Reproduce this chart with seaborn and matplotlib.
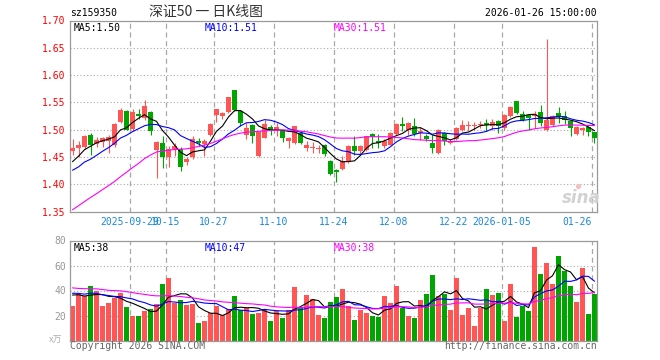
import numpy as np
import pandas as pd
import matplotlib
matplotlib.use("Agg")
import matplotlib.pyplot as plt
import seaborn as sns

# ---------------- data ----------------
dates = ["2025-09-29", "10-15", "10-27", "11-10", "11-24", "12-08", "12-22", "2026-01-05", "01-26"]
date_idx = [10, 16, 24, 34, 44, 54, 64, 72, 87]

opens = [1.461, 1.467, 1.469, 1.490, 1.474, 1.477, 1.479, 1.472, 1.514, 1.535,
         1.502, 1.529, 1.522, 1.533, 1.462, 1.4755, 1.449, 1.465, 1.4645, 1.440,
         1.449, 1.4785, 1.4736, 1.491, 1.527, 1.5255, 1.532, 1.572, 1.535, 1.490,
         1.509, 1.451, 1.485, 1.505, 1.500, 1.500, 1.4785, 1.4755, 1.494, 1.4668,
         1.466, 1.4645, 1.471, 1.4417, 1.4263, 1.4282, 1.4405, 1.4693, 1.4613, 1.4632,
         1.492, 1.4785, 1.4693, 1.4724, 1.492, 1.5104, 1.500, 1.506, 1.4939, 1.4877,
         1.4755, 1.457, 1.4939, 1.4755, 1.4834, 1.500, 1.507, 1.5074, 1.5086, 1.5123,
         1.5061, 1.5153, 1.503, 1.5245, 1.5522, 1.5288, 1.5264, 1.5245, 1.5325, 1.500,
         1.508, 1.5307, 1.5245, 1.5153, 1.4918, 1.500, 1.5043, 1.4951]
highs = [1.482, 1.479, 1.491, 1.494, 1.487, 1.487, 1.490, 1.512, 1.539, 1.536,
         1.537, 1.538, 1.555, 1.534, 1.480, 1.489, 1.470, 1.4755, 1.469, 1.450,
         1.489, 1.4847, 1.482, 1.512, 1.538, 1.5325, 1.560, 1.573, 1.536, 1.512,
         1.511, 1.497, 1.518, 1.509, 1.512, 1.501, 1.487, 1.507, 1.497, 1.4786,
         1.478, 1.4724, 1.474, 1.444, 1.428, 1.4509, 1.4724, 1.4877, 1.4724, 1.489,
         1.494, 1.492, 1.482, 1.495, 1.5123, 1.5233, 1.514, 1.5215, 1.5043, 1.492,
         1.4908, 1.502, 1.495, 1.482, 1.505, 1.5184, 1.5153, 1.514, 1.5165, 1.5196,
         1.5196, 1.518, 1.528, 1.543, 1.553, 1.5337, 1.528, 1.5337, 1.546, 1.667,
         1.5276, 1.541, 1.5337, 1.516, 1.506, 1.505, 1.506, 1.496]
lows = [1.454, 1.450, 1.465, 1.454, 1.468, 1.468, 1.457, 1.469, 1.512, 1.499,
        1.498, 1.520, 1.518, 1.491, 1.411, 1.4295, 1.432, 1.452, 1.4245, 1.436,
        1.447, 1.4705, 1.451, 1.489, 1.514, 1.519, 1.531, 1.534, 1.507, 1.482,
        1.4755, 1.450, 1.484, 1.491, 1.488, 1.478, 1.4663, 1.474, 1.473, 1.4602,
        1.4565, 1.458, 1.451, 1.416, 1.4048, 1.426, 1.4386, 1.454, 1.454, 1.461,
        1.466, 1.466, 1.467, 1.471, 1.490, 1.497, 1.4908, 1.4877, 1.4816, 1.480,
        1.457, 1.455, 1.4724, 1.473, 1.481, 1.497, 1.497, 1.500, 1.503, 1.497,
        1.500, 1.4939, 1.500, 1.523, 1.529, 1.5153, 1.500, 1.503, 1.506, 1.497,
        1.506, 1.5123, 1.510, 1.4877, 1.490, 1.4908, 1.4877, 1.4755]
closes = [1.466, 1.471, 1.489, 1.472, 1.481, 1.485, 1.486, 1.510, 1.536, 1.500,
          1.533, 1.525, 1.543, 1.497, 1.478, 1.449, 1.465, 1.470, 1.431, 1.4466,
          1.483, 1.4755, 1.4785, 1.511, 1.537, 1.531, 1.559, 1.536, 1.512, 1.503,
          1.488, 1.495, 1.511, 1.500, 1.504, 1.4847, 1.4847, 1.506, 1.4755, 1.471,
          1.469, 1.4663, 1.4552, 1.4184, 1.422, 1.443, 1.4693, 1.4613, 1.4693, 1.4877,
          1.4859, 1.4755, 1.4797, 1.4939, 1.5104, 1.5061, 1.5123, 1.492, 1.497, 1.4828,
          1.4663, 1.500, 1.4785, 1.4785, 1.503, 1.5092, 1.508, 1.508, 1.5092, 1.508,
          1.514, 1.5061, 1.5264, 1.5411, 1.5307, 1.5184, 1.5215, 1.5288, 1.5123, 1.5184,
          1.5245, 1.5233, 1.518, 1.503, 1.5043, 1.503, 1.4951, 1.4847]
volumes = [27.9, 37.0, 35.9, 43.6, 39.6, 27.6, 30.0, 34.3, 38.0, 26.8,
           19.9, 19.6, 23.9, 25.2, 28.9, 45.2, 50.0, 30.3, 32.4, 28.4,
           29.2, 14.3, 15.6, 21.7, 27.9, 20.4, 25.2, 35.6, 24.1, 25.7,
           21.2, 22.3, 25.2, 15.6, 23.3, 18.3, 24.4, 43.1, 26.5, 36.4,
           33.2, 20.4, 18.3, 30.8, 35.1, 41.2, 27.9, 16.4, 24.4, 22.3,
           19.9, 19.1, 35.6, 30.0, 43.6, 26.3, 19.9, 18.0, 32.4, 37.2,
           52.4, 35.6, 37.0, 24.4, 50.3, 20.4, 26.3, 11.9, 26.0, 41.2,
           36.4, 38.0, 15.6, 45.2, 19.1, 27.9, 23.6, 75.0, 53.2, 62.0,
           45.2, 67.6, 55.6, 43.6, 31.0, 58.0, 21.2, 37.0]
# closes / volumes of the 29 sessions before the first visible candle (needed by the moving averages)
prior_closes = [1.25, 1.26, 1.25, 1.27, 1.26, 1.27, 1.28, 1.27, 1.26, 1.28,
                1.29, 1.28, 1.30, 1.31, 1.40, 1.42, 1.43, 1.41, 1.43, 1.42,
                1.41, 1.40, 1.42, 1.41, 1.41, 1.42, 1.43, 1.44, 1.45]
prior_volumes = [50, 42, 47, 40, 45, 48, 41, 44, 46, 43,
                 45, 41, 48, 42, 44, 46, 40, 43, 47, 43,
                 38, 42, 36, 41, 39, 36, 41, 40, 37]
ma_periods = [5, 10, 30]
ma_colors = ["#000000", "#0000FF", "#FF00FF"]

# ---------------- style ----------------
sns.set_style("white")
plt.rcParams["font.family"] = ["DejaVu Sans Mono", "Noto Sans CJK SC"]
RED = "#FF5555"
GREEN = "#00A600"
GRID = "#A8A8A8"
SPINE = "#9A9A9A"
W, H = 660, 360

fig = plt.figure(figsize=(6.6, 3.6), dpi=100)
fig.patch.set_facecolor("white")

def fx(px):
    return px / W

def fy(py):
    return 1 - py / H

ax1 = fig.add_axes([fx(70), fy(211.5), 527 / W, 191 / H])
ax2 = fig.add_axes([fx(70), fy(340.5), 527 / W, 100 / H])

n = len(closes)
idx = np.arange(n)
xl = (-2.5 / 6, (597 - 72.5) / 6)
bw = 5 / 6

o = np.array(opens); c = np.array(closes); hi = np.array(highs); lo = np.array(lows)
up = c >= o
cols = [RED if u else GREEN for u in up]

all_close = pd.Series(prior_closes + closes)
all_vol = pd.Series(prior_volumes + volumes)
k = len(prior_closes)

for ax in (ax1, ax2):
    ax.set_xlim(*xl)
    for s in ax.spines.values():
        s.set_color(SPINE)
        s.set_linewidth(0.9)
    for d in date_idx:
        ax.axvline(d - 2.5 / 6, color=GRID, lw=0.9, dashes=(4, 3), zorder=0)

# ---- main panel ----
ax1.set_ylim(1.35, 1.70)
yt = [1.35, 1.40, 1.45, 1.50, 1.55, 1.60, 1.65, 1.70]
for v in yt[1:-1]:
    ax1.axhline(v, color=GRID, lw=0.8, dashes=(1, 2), zorder=0)
ax1.vlines(idx, lo, hi, colors=cols, lw=0.8, zorder=2)
body = np.maximum(np.abs(c - o), 0.0012)
ax1.bar(idx, body, bottom=np.minimum(o, c), width=bw, color=cols, linewidth=0, zorder=3)
for p, colr in zip(ma_periods, ma_colors):
    ma = all_close.rolling(p).mean().iloc[k:].to_numpy()
    sns.lineplot(x=idx, y=ma, color=colr, lw=0.8, ax=ax1, zorder=4, legend=False)
ax1.set_yticks(yt)
ax1.set_yticklabels([f"{v:.2f}" for v in yt], color="#FF0000", fontsize=7)
ax1.set_xticks([d - 2.5 / 6 for d in date_idx])
ax1.set_xticklabels(dates, color="#1A88D8", fontsize=7)
ax1.get_xticklabels()[-1].set_horizontalalignment("right")
ax1.tick_params(axis="both", length=0)
ax1.tick_params(axis="y", pad=3)
ax1.tick_params(axis="x", pad=4)
ax1.set_xlabel(""); ax1.set_ylabel("")

ma_main = [all_close.rolling(p).mean().iloc[-1] for p in ma_periods]
ax1.text(4 / 527, 0.985, f"MA5:{ma_main[0]:.2f}", transform=ax1.transAxes, color="#000000",
         fontsize=7, va="top", ha="left")
ax1.text(135 / 527, 0.985, f"MA10:{ma_main[1]:.2f}", transform=ax1.transAxes, color="#0000FF",
         fontsize=7, va="top", ha="left")
ax1.text(264 / 527, 0.985, f"MA30:{ma_main[2]:.2f}", transform=ax1.transAxes, color="#FF00FF",
         fontsize=7, va="top", ha="left")

# ---- volume panel ----
ax2.set_ylim(0, 80)
for v in [20, 40, 60]:
    ax2.axhline(v, color=GRID, lw=0.8, dashes=(1, 2), zorder=0)
ax2.bar(idx, volumes, width=bw, color=cols, linewidth=0, zorder=2)
for p, colr in zip(ma_periods, ma_colors):
    ma = all_vol.rolling(p).mean().iloc[k:].to_numpy()
    sns.lineplot(x=idx, y=ma, color=colr, lw=0.8, ax=ax2, zorder=4, legend=False)
ax2.set_yticks([20, 40, 60, 80])
ax2.set_yticklabels(["20", "40", "60", "80"], color="#999999", fontsize=7)
ax2.set_xticks([])
ax2.tick_params(axis="both", length=0)
ax2.tick_params(axis="y", pad=3)
ax2.set_xlabel(""); ax2.set_ylabel("")
ma_vol = [all_vol.rolling(p).mean().iloc[-1] for p in ma_periods]
ax2.text(4 / 527, 0.975, f"MA5:{ma_vol[0]:.0f}", transform=ax2.transAxes, color="#000000",
         fontsize=7, va="top", ha="left")
ax2.text(135 / 527, 0.975, f"MA10:{ma_vol[1]:.0f}", transform=ax2.transAxes, color="#0000FF",
         fontsize=7, va="top", ha="left")
ax2.text(264 / 527, 0.975, f"MA30:{ma_vol[2]:.0f}", transform=ax2.transAxes, color="#FF00FF",
         fontsize=7, va="top", ha="left")

# ---- header / footer text ----
fig.text(fx(70), fy(13), "sz159350", fontsize=7, color="#000000", va="center", ha="left")
fig.text(fx(206), fy(12), "深证50 一 日K线图", fontsize=10, color="#333333", va="center", ha="center",
         family=["Noto Sans CJK SC", "DejaVu Sans"])
fig.text(fx(597), fy(13), "2026-01-26 15:00:00", fontsize=7, color="#000000", va="center", ha="right")
fig.text(fx(70), fy(346), "Copyright 2026 SINA.COM", fontsize=7, color="#666666", va="center", ha="left")
fig.text(fx(597), fy(346), "http://finance.sina.com.cn", fontsize=7, color="#666666", va="center", ha="right")
fig.text(fx(56), fy(340), "x万", fontsize=6.5, color="#B0B0B0", va="center", ha="center",
         family=["Noto Sans CJK SC", "DejaVu Sans"], style="italic")
fig.text(fx(581), fy(198), "sina", fontsize=12, color="#D2D2D2", va="center", ha="center",
         family="DejaVu Sans", weight="bold", style="italic")
ax1.scatter([fx(578)], [fy(186)], s=14, color="#F2C0C0", transform=fig.transFigure, zorder=1,
            clip_on=False, linewidths=0)

fig.savefig("out.png", dpi=100, facecolor="white")
